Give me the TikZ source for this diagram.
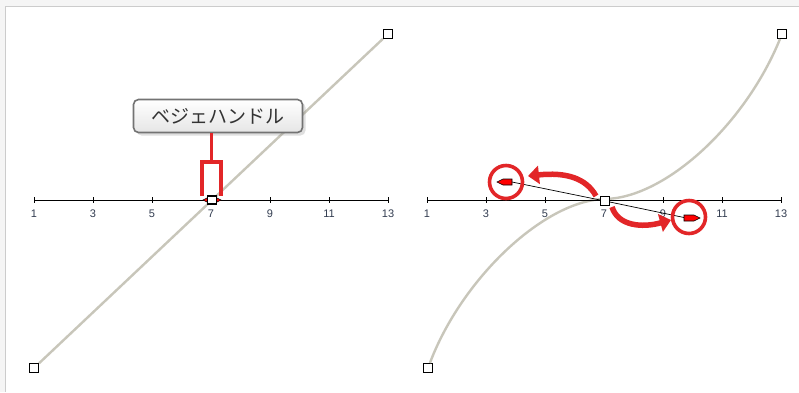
\documentclass[tikz,border=0pt]{standalone}
\usepackage{fontspec}
\setsansfont{Liberation Sans}
\newfontfamily\jpfont{Noto Sans CJK JP}
\usepackage{tikz}
\usetikzlibrary{arrows.meta,shadows,calc}
\definecolor{curvegray}{RGB}{200,198,186}
\definecolor{markred}{RGB}{226,38,40}
\definecolor{labelcolor}{RGB}{50,60,80}
\tikzset{
  ctrl pt/.style={
    draw=black,
    fill=white,
    line width=1.1pt,
    minimum width=9pt,
    minimum height=9pt,
    inner sep=0pt
  },
  curve line/.style={draw=curvegray, line width=2.4pt},
  axis line/.style={line width=0.9pt},
  tick label/.style={font=\sffamily\fontsize{11}{11}\selectfont, text=labelcolor},
  red mark/.style={draw=markred, line width=3.6pt},
  drag arrow/.style={
    draw=markred,
    line width=5.5pt,
    -{Triangle[length=11pt,width=18pt]}
  },
  handle tip/.style={fill=red, draw=black, line width=0.6pt},
  callout/.style={
    draw=black!55,
    line width=1.6pt,
    rounded corners=5pt,
    top color=white,
    bottom color=black!10,
    minimum width=169pt,
    minimum height=33pt,
    font=\jpfont\fontsize{19}{19}\selectfont,
    text=black!80,
    drop shadow={shadow xshift=3pt, shadow yshift=-3pt, opacity=0.25}
  }
}

\begin{document}
\begin{tikzpicture}[x=1pt, y=-1pt]
  \useasboundingbox (0,0) rectangle (799,392);

  % frame
  \fill[black!4] (0,0) rectangle (799,392);
  \fill[white] (5,6) rectangle (799,392);
  \draw[black!20, line width=1pt] (5,392) -- (5,6) -- (799,6);

  % left panel: straight curve
  \node[ctrl pt] (la) at (34,368) {};
  \node[ctrl pt] (lb) at (388,34) {};
  \draw[curve line] (la) -- (lb);

  \draw[axis line] (34,200) -- (388,200);
  \foreach \n [count=\i from 0] in {1,3,...,13} {
    \draw[axis line] (34+\i*59,197) -- (34+\i*59,203);
    \node[tick label] (lt\n) at (34+\i*59,214) {\n};
  }

  % collapsed handles
  \draw[handle tip] (203,200) -- (208,197.5) -- (208,202.5) -- cycle;
  \draw[handle tip] (221,200) -- (216,197.5) -- (216,202.5) -- cycle;
  \node[ctrl pt, minimum height=8pt] (lc) at (212,200) {};

  % callout
  \node[callout] (bubble) at (218,116) {ベジェハンドル};
  \coordinate (brk) at (211.5,162);
  \draw[red mark] (brk |- bubble.south) -- (brk);
  \draw[red mark] (202,196) -- (202,162) -- (221,162) -- (221,196);

  % right panel: s-curve
  \node[ctrl pt] (ra) at (428,368) {};
  \node[ctrl pt] (rb) at (782,34) {};
  \coordinate (rm) at (605,199);
  \draw[curve line] (ra) .. controls (462,278) and (545,200) .. (rm)
                         .. controls (665,198) and (745,125) .. (rb);

  \draw[axis line] (427,200) -- (781,200);
  \foreach \n [count=\i from 0] in {1,3,...,13} {
    \draw[axis line] (427+\i*59,197) -- (427+\i*59,203);
    \node[tick label] (rt\n) at (427+\i*59,214) {\n};
  }

  % handles
  \coordinate (hl) at (512,182);
  \coordinate (hr) at (684,217.5);
  \node[ctrl pt] (rc) at (605,201) {};
  \draw[line width=0.7pt] (rc) -- (hl);
  \draw[line width=0.7pt] (rc) -- (hr);
  \draw[handle tip] (497,182) -- (503,179) -- (512,179) -- (512,185) -- (503,185) -- cycle;
  \draw[handle tip] (700,218) -- (694,215) -- (684,215) -- (684,221) -- (694,221) -- cycle;

  % drag marks
  \node[red mark, circle, minimum size=33pt, inner sep=0pt] (cl) at (506,182) {};
  \node[red mark, circle, minimum size=33pt, inner sep=0pt] (cr) at (689,217) {};
  \draw[drag arrow] (596,196) .. controls (586,178) and (566,172) .. (528,176);
  \draw[drag arrow] (612,207) .. controls (618,226) and (642,228) .. (671,220);

\end{tikzpicture}
\end{document}
